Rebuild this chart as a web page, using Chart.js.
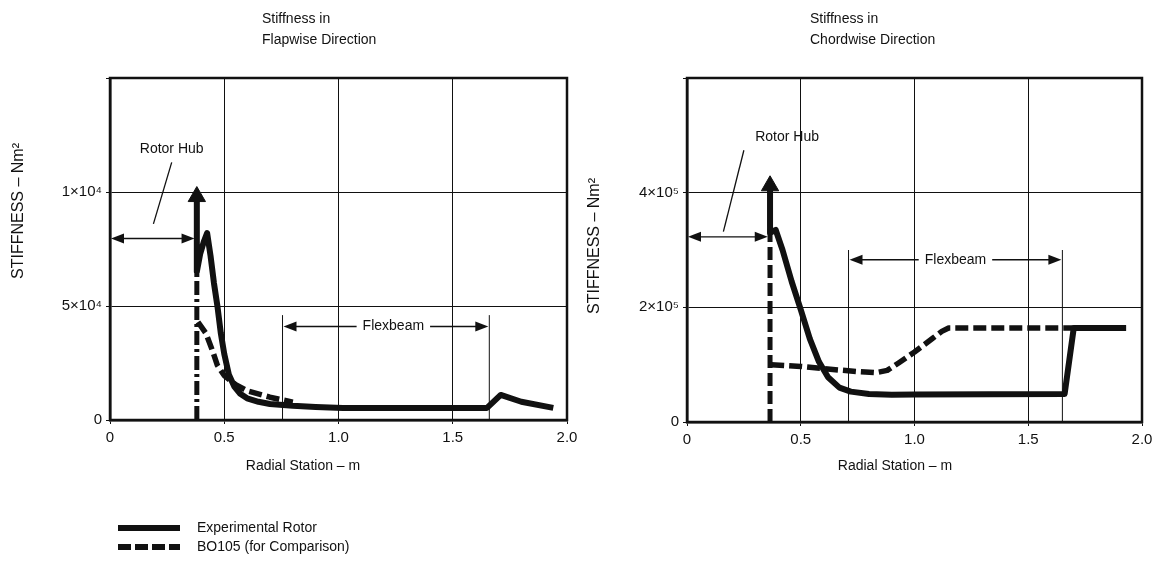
<!DOCTYPE html>
<html>
<head>
<meta charset="utf-8">
<script src="https://cdn.jsdelivr.net/npm/chart.js@4/dist/chart.umd.min.js"></script>
<style>
  body { margin: 0; background: #fff; width: 1156px; height: 580px; position: relative; overflow: hidden; }
  .box { position: absolute; top: 0; width: 578px; height: 580px; }
</style>
</head>
<body>
<div class="box" style="left:0"><canvas id="flap" width="578" height="580"></canvas></div>
<div class="box" style="left:578px"><canvas id="chord" width="578" height="580"></canvas></div>
<script>
const FONT = '"Liberation Sans", Arial, sans-serif';
const INK = "#111";

// shared x axis (radial station, m)
const xTickLabels = ["0", "0.5", "1.0", "1.5", "2.0"];

// flapwise stiffness
const flapYTickLabels = ["0", "5×10⁴", "1×10⁴", ""];
const flapExpX = [0.38, 0.38, 0.395, 0.41, 0.425, 0.44, 0.455, 0.47, 0.485, 0.5, 0.52, 0.545, 0.57, 0.6, 0.65, 0.7, 0.8, 0.9, 1.02, 1.65, 1.71, 1.8, 1.94];
const flapExpY = [96000, 65000, 73000, 78000, 82000, 72000, 60000, 50000, 38000, 29000, 20000, 14500, 11500, 9500, 8000, 7000, 6200, 5700, 5300, 5300, 11000, 8000, 5300];
const flapBoVertX = [0.38, 0.38];
const flapBoVertY = [0, 65000];
const flapBoX = [0.385, 0.42, 0.45, 0.47, 0.5, 0.55, 0.6, 0.7, 0.8];
const flapBoY = [43000, 38000, 30000, 24000, 19500, 15500, 12800, 10000, 7800];
const flapArrowX = [0.38];
const flapArrowY = [98000];

// chordwise stiffness
const chordYTickLabels = ["0", "2×10⁵", "4×10⁵", ""];
const chordExpX = [0.365, 0.365, 0.39, 0.42, 0.46, 0.5, 0.54, 0.58, 0.62, 0.67, 0.72, 0.8, 0.9, 1.0, 1.66, 1.7, 1.93];
const chordExpY = [410000, 330000, 335000, 300000, 245000, 196000, 145000, 105000, 78000, 60000, 53000, 49000, 47500, 48000, 49000, 164000, 164000];
const chordBoVertX = [0.365, 0.365];
const chordBoVertY = [0, 330000];
const chordBoX = [0.37, 0.5, 0.6, 0.75, 0.83, 0.88, 0.93, 1.0, 1.08, 1.12, 1.15, 1.93];
const chordBoY = [100000, 97000, 93000, 88000, 86000, 90000, 103000, 122000, 146000, 158000, 164000, 164000];
const chordArrowX = [0.365];
const chordArrowY = [412000];

const pts = (xs, ys) => xs.map((x, i) => ({ x: x, y: ys[i] }));

function arrowHead(ctx, x, y, dir) {
  // dir: -1 points left, 1 points right
  ctx.beginPath();
  ctx.moveTo(x, y);
  ctx.lineTo(x - dir * 13, y - 5);
  ctx.lineTo(x - dir * 13, y + 5);
  ctx.closePath();
  ctx.fill();
}

const decor = {
  id: "decor",
  afterDraw(chart, args, o) {
    const { ctx, chartArea: a } = chart;
    const xs = chart.scales.x, ys = chart.scales.y;
    ctx.save();
    ctx.strokeStyle = INK;
    ctx.fillStyle = INK;
    ctx.lineWidth = 2.5;
    ctx.strokeRect(a.left, a.top, a.right - a.left, a.bottom - a.top);

    ctx.font = "14px " + FONT;
    ctx.textBaseline = "middle";

    // title
    ctx.textAlign = "left";
    ctx.fillText(o.title[0], o.titleX, 19);
    ctx.fillText(o.title[1], o.titleX, 40);

    // axis titles
    ctx.textAlign = "center";
    ctx.fillText("Radial Station – m", o.xTitleX, 466);
    ctx.save();
    ctx.font = "16px " + FONT;
    ctx.translate(o.yTitle[0], o.yTitle[1]);
    ctx.rotate(-Math.PI / 2);
    ctx.fillText("STIFFNESS – Nm²", 0, 0);
    ctx.restore();

    // rotor hub
    ctx.lineWidth = 1.3;
    const hy = ys.getPixelForValue(o.hub.y);
    const h1 = xs.getPixelForValue(0) + 1, h2 = xs.getPixelForValue(o.hub.x2);
    ctx.beginPath(); ctx.moveTo(h1 + 10, hy); ctx.lineTo(h2 - 10, hy); ctx.stroke();
    arrowHead(ctx, h1, hy, -1);
    arrowHead(ctx, h2, hy, 1);
    ctx.fillText("Rotor Hub", xs.getPixelForValue(o.hub.lx), ys.getPixelForValue(o.hub.ly));
    ctx.beginPath();
    ctx.moveTo(xs.getPixelForValue(o.hub.lead[0]), ys.getPixelForValue(o.hub.lead[1]));
    ctx.lineTo(xs.getPixelForValue(o.hub.lead[2]), ys.getPixelForValue(o.hub.lead[3]));
    ctx.stroke();

    // flexbeam
    const f1 = xs.getPixelForValue(o.flex.x1), f2 = xs.getPixelForValue(o.flex.x2);
    const fTop = ys.getPixelForValue(o.flex.top), fy = ys.getPixelForValue(o.flex.y);
    const fx = xs.getPixelForValue(o.flex.lx);
    ctx.lineWidth = 1;
    ctx.beginPath();
    ctx.moveTo(f1, a.bottom); ctx.lineTo(f1, fTop);
    ctx.moveTo(f2, a.bottom); ctx.lineTo(f2, fTop);
    ctx.stroke();
    const tw = ctx.measureText("Flexbeam").width;
    ctx.fillText("Flexbeam", fx, fy);
    ctx.lineWidth = 1.3;
    ctx.beginPath();
    ctx.moveTo(fx - tw / 2 - 6, fy); ctx.lineTo(f1 + 10, fy);
    ctx.moveTo(fx + tw / 2 + 6, fy); ctx.lineTo(f2 - 10, fy);
    ctx.stroke();
    arrowHead(ctx, f1 + 1, fy, -1);
    arrowHead(ctx, f2 - 1, fy, 1);

    // legend
    if (o.legend) {
      ctx.textAlign = "left";
      ctx.lineWidth = 6;
      ctx.beginPath(); ctx.moveTo(118, 528); ctx.lineTo(180, 528); ctx.stroke();
      ctx.setLineDash([13, 4]);
      ctx.beginPath(); ctx.moveTo(118, 547); ctx.lineTo(180, 547); ctx.stroke();
      ctx.setLineDash([]);
      ctx.fillText("Experimental Rotor", 197, 528);
      ctx.fillText("BO105 (for Comparison)", 197, 547);
    }
    ctx.restore();
  }
};

function makeChart(id, d) {
  const line = (data, dash, w) => ({
    data: data, showLine: true, borderColor: INK, backgroundColor: INK,
    borderWidth: w, borderDash: dash, pointRadius: 0, tension: 0,
    borderJoinStyle: "round"
  });
  return new Chart(document.getElementById(id), {
    type: "scatter",
    data: {
      datasets: [
        { data: d.arrow, pointStyle: "triangle", pointRadius: 10, backgroundColor: INK, borderColor: INK },
        line(d.exp, [], 6),
        line(d.boVert, d.vertDash, 5),
        line(d.bo, [13, 5], 5.5)
      ]
    },
    options: {
      responsive: false,
      animation: false,
      layout: { padding: d.padding },
      plugins: { legend: { display: false }, tooltip: { enabled: false }, decor: d.decor },
      scales: {
        x: {
          type: "linear", min: 0, max: 2,
          afterFit: s => { s.height = 50; s.paddingLeft = 0; s.paddingRight = 0; },
          ticks: { stepSize: 0.5, padding: 5, color: INK, font: { family: FONT, size: 15 },
                   callback: (v, i) => xTickLabels[i] },
          grid: { color: INK, lineWidth: 1, tickLength: 4 },
          border: { color: INK, width: 2.5 }
        },
        y: {
          min: 0, max: d.yMax, afterFit: s => { s.width = d.yWidth; },
          ticks: { stepSize: d.yMax / 3, padding: 4, color: INK, font: { family: FONT, size: 15 },
                   callback: (v, i) => d.yLabels[i] },
          grid: { color: INK, lineWidth: 1, tickLength: 4 },
          border: { color: INK, width: 2.5 }
        }
      }
    },
    plugins: [decor]
  });
}

makeChart("flap", {
  arrow: pts(flapArrowX, flapArrowY),
  exp: pts(flapExpX, flapExpY),
  boVert: pts(flapBoVertX, flapBoVertY),
  bo: pts(flapBoX, flapBoY),
  vertDash: [14, 4, 3, 4],
  yMax: 150000, yLabels: flapYTickLabels, yWidth: 110,
  padding: { left: 0, top: 78, right: 10, bottom: 110 },
  decor: {
    title: ["Stiffness in", "Flapwise Direction"], titleX: 262,
    xTitleX: 303, yTitle: [19, 211],
    hub: { y: 79600, x2: 0.37, lx: 0.27, ly: 119000, lead: [0.27, 113000, 0.19, 86000] },
    flex: { x1: 0.755, x2: 1.66, top: 46000, y: 41000, lx: 1.24 },
    legend: true
  }
});

makeChart("chord", {
  arrow: pts(chordArrowX, chordArrowY),
  exp: pts(chordExpX, chordExpY),
  boVert: pts(chordBoVertX, chordBoVertY),
  bo: pts(chordBoX, chordBoY),
  vertDash: [13, 5],
  yMax: 600000, yLabels: chordYTickLabels, yWidth: 109,
  padding: { left: 0, top: 78, right: 14, bottom: 108 },
  decor: {
    title: ["Stiffness in", "Chordwise Direction"], titleX: 232,
    xTitleX: 317, yTitle: [17, 246],
    hub: { y: 323000, x2: 0.355, lx: 0.44, ly: 496000, lead: [0.25, 474000, 0.16, 332000] },
    flex: { x1: 0.71, x2: 1.65, top: 300000, y: 283000, lx: 1.18 },
    legend: false
  }
});
</script>
</body>
</html>
